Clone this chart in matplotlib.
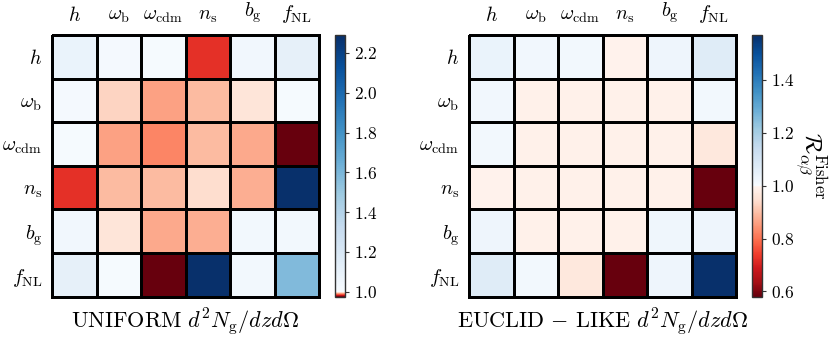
import numpy as np
import matplotlib
matplotlib.use('Agg')
import matplotlib.pyplot as plt
from matplotlib.colors import ListedColormap, TwoSlopeNorm
from matplotlib.ticker import FuncFormatter, FixedLocator

plt.rcParams['mathtext.fontset'] = 'cm'
plt.rcParams['font.family'] = ['DejaVu Serif']

params = [r'$h$', r'$\omega_{\rm b}$', r'$\omega_{\rm cdm}$', r'$n_{\rm s}$',
          r'$b_{\rm g}$', r'$f_{\rm NL}$']

uniform = [
    [1.09, 1.025, 1.02, 0.9835, 1.045, 1.115],
    [1.025, 0.9958, 0.99175, 0.9937, 0.9975, 1.02],
    [1.02, 0.99175, 0.9895, 0.9937, 0.99225, 0.975],
    [0.9835, 0.9937, 0.9937, 0.9965, 0.9927, 2.29],
    [1.045, 0.9975, 0.99225, 0.9927, 1.04, 1.04],
    [1.115, 1.02, 0.975, 2.29, 1.04, 1.58],
]

euclid = [
    [1.04, 1.02, 1.014, 0.992, 1.028, 1.07],
    [1.02, 0.99, 0.99, 0.99, 0.99, 1.015],
    [1.014, 0.99, 0.99, 0.99, 0.99, 0.966],
    [0.992, 0.99, 0.99, 0.99, 0.99, 0.58],
    [1.028, 0.99, 0.99, 0.99, 1.023, 1.03],
    [1.07, 1.015, 0.966, 0.58, 1.03, 1.57],
]

uniform_ticks = [1.0, 1.2, 1.4, 1.6, 1.8, 2.0, 2.2]
euclid_ticks = [0.6, 0.8, 1.0, 1.2, 1.4]

titles = [r'$\mathrm{UNIFORM}\ d^2N_{\rm g}/dzd\Omega$',
          r'$\mathrm{EUCLID}\,-\,\mathrm{LIKE}\ d^2N_{\rm g}/dzd\Omega$']
cbar_label = r'$\mathcal{R}^{\rm Fisher}_{\alpha\beta}$'

reds = plt.get_cmap('Reds_r')(np.linspace(0, 1, 128))
blues = plt.get_cmap('Blues')(np.linspace(0, 1, 128))
cmap = ListedColormap(np.vstack([reds, blues]))

W, H = 831, 345
fig = plt.figure(figsize=(W / 100, H / 100), dpi=100)

def fx(px):
    return px / W

def fy(py):
    return 1 - py / H

panels = [
    (uniform, uniform_ticks, 52, 335, titles[0], False),
    (euclid, euclid_ticks, 469, 752, titles[1], True),
]

top, bot = 35, 296.7
for data, ticks, x0, cx0, title, lab in panels:
    arr = np.array(data)
    ax = fig.add_axes([fx(x0), fy(bot), fx(267), (bot - top) / H])
    norm = TwoSlopeNorm(vcenter=1.0, vmin=arr.min(), vmax=arr.max())
    mesh = ax.pcolormesh(np.arange(7), np.arange(7), arr, cmap=cmap, norm=norm,
                         edgecolors='black', linewidth=1.9)
    mesh.set_clip_on(False)
    ax.set_xlim(0, 6)
    ax.set_ylim(6, 0)
    for s in ax.spines.values():
        s.set_visible(False)
    ax.set_xticks(np.arange(6) + 0.5)
    ax.set_yticks(np.arange(6) + 0.5)
    ax.set_xticklabels(params, fontsize=14.5)
    ax.set_yticklabels(params, fontsize=14.5)
    ax.xaxis.tick_top()
    ax.tick_params(length=0, pad=7)
    fig.text(fx(x0 + 133.5), fy(322), title, ha='center', va='center', fontsize=16)

    cax = fig.add_axes([fx(cx0), fy(bot), fx(9.5), (bot - top) / H])
    cb = fig.colorbar(mesh, cax=cax)
    cax.set_yscale('linear')
    cax.set_ylim(arr.min(), arr.max())
    cax.yaxis.set_major_locator(FixedLocator(ticks))
    cax.yaxis.set_major_formatter(FuncFormatter(lambda v, _: f'${v:.1f}$'))
    cax.yaxis.set_minor_locator(FixedLocator([]))
    cax.tick_params(labelsize=12.5, length=3, width=0.8, color='#333333')
    cb.outline.set_edgecolor('#333333')
    cb.outline.set_linewidth(1.0)
    if lab:
        cb.set_label(cbar_label, rotation=270, fontsize=17, labelpad=25)

fig.savefig('out.png', dpi=100)
